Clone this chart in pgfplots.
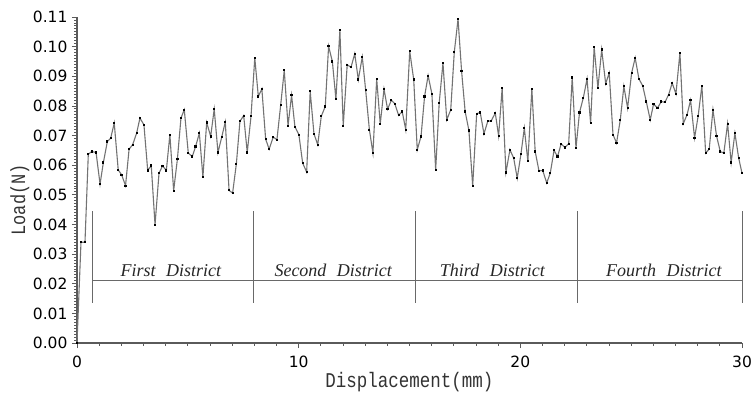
\documentclass[border=0pt]{standalone}
\usepackage{pgfplots}
\pgfplotsset{compat=1.18}
\usepackage{fontspec}
\usepackage{graphicx}
\setmainfont{DejaVu Sans}
\newfontfamily\labelfont{Liberation Mono}
\newfontfamily\distfont{Liberation Serif}
\definecolor{linegray}{RGB}{115,115,115}
\definecolor{axgray}{RGB}{90,90,90}
\definecolor{anngray}{RGB}{105,105,105}
\begin{document}
\begin{tikzpicture}
\begin{axis}[
  at={(0,0)}, anchor=south west,
  scale only axis, width=665pt, height=326pt,
  xmin=0, xmax=30, ymin=0, ymax=0.11,
  clip=false,
  axis lines=left,
  axis line style={draw=axgray, line width=1.1pt, -},
  xtick={0,10,20,30},
  minor x tick num=9,
  ytick={0,0.01,0.02,0.03,0.04,0.05,0.06,0.07,0.08,0.09,0.10,0.11},
  minor y tick num=9,
  tick align=outside,
  major tick length=5pt,
  minor tick length=2.5pt,
  every tick/.style={draw=axgray, line width=0.8pt},
  tick label style={font=\fontsize{15.5}{15.5}\selectfont, text=black},
  /pgf/number format/assume math mode=true,
  yticklabel style={/pgf/number format/fixed, /pgf/number format/fixed zerofill, /pgf/number format/precision=2, xshift=-1pt},
  scaled y ticks=false,
  xticklabel style={yshift=-4pt},
  xlabel={\labelfont\fontsize{17.5}{18}\selectfont\scalebox{1}[1.2]{Displacement(mm)}},
  ylabel={\labelfont\fontsize{17}{18}\selectfont\scalebox{1}[1.2]{Load(N)}},
  xlabel style={at={(axis description cs:0.5,-0.12)}, anchor=center, text=black!80},
  ylabel style={at={(axis description cs:-0.086,0.439)}, anchor=center, text=black!80},
]
\addplot[color=linegray, line width=1.1pt, mark=square*, mark size=0.6pt,
  mark options={draw=black, fill=black, line width=0pt}] table {
x y
0.00 0.0000
0.18 0.0340
0.36 0.0340
0.51 0.0637
0.66 0.0646
0.86 0.0643
1.04 0.0536
1.19 0.0609
1.37 0.0680
1.52 0.0691
1.68 0.0742
1.86 0.0584
2.01 0.0568
2.19 0.0531
2.35 0.0654
2.51 0.0669
2.69 0.0708
2.84 0.0759
3.02 0.0736
3.19 0.0582
3.35 0.0599
3.52 0.0399
3.70 0.0573
3.86 0.0598
4.03 0.0582
4.19 0.0703
4.36 0.0514
4.53 0.0621
4.69 0.0759
4.84 0.0787
5.02 0.0641
5.20 0.0629
5.35 0.0663
5.52 0.0708
5.68 0.0560
5.85 0.0744
6.03 0.0697
6.19 0.0789
6.36 0.0643
6.53 0.0695
6.69 0.0746
6.86 0.0515
7.02 0.0506
7.19 0.0605
7.35 0.0748
7.52 0.0767
7.68 0.0643
7.85 0.0765
8.02 0.0962
8.18 0.0832
8.34 0.0857
8.51 0.0688
8.67 0.0654
8.85 0.0695
9.02 0.0686
9.19 0.0804
9.35 0.0920
9.52 0.0733
9.68 0.0836
9.83 0.0730
10.01 0.0703
10.18 0.0607
10.36 0.0577
10.52 0.0849
10.69 0.0706
10.86 0.0669
11.02 0.0765
11.20 0.0798
11.35 0.1001
11.52 0.0950
11.68 0.0823
11.86 0.1055
12.01 0.0733
12.19 0.0939
12.36 0.0930
12.53 0.0976
12.69 0.0889
12.87 0.0965
13.02 0.0855
13.19 0.0720
13.35 0.0641
13.52 0.0891
13.68 0.0739
13.85 0.0857
14.01 0.0789
14.18 0.0819
14.34 0.0807
14.51 0.0768
14.67 0.0781
14.83 0.0720
15.01 0.0984
15.19 0.0889
15.35 0.0652
15.52 0.0697
15.68 0.0832
15.84 0.0902
16.01 0.0841
16.18 0.0584
16.34 0.0810
16.51 0.0945
16.68 0.0753
16.86 0.0787
17.02 0.0981
17.19 0.1093
17.35 0.0917
17.51 0.0781
17.68 0.0717
17.85 0.0530
18.03 0.0774
18.19 0.0778
18.36 0.0706
18.53 0.0748
18.69 0.0750
18.87 0.0776
19.02 0.0699
19.18 0.0860
19.35 0.0575
19.53 0.0652
19.70 0.0624
19.86 0.0556
20.03 0.0639
20.18 0.0725
20.34 0.0613
20.52 0.0857
20.67 0.0646
20.84 0.0581
21.01 0.0582
21.19 0.0540
21.35 0.0573
21.52 0.0650
21.68 0.0629
21.84 0.0672
22.01 0.0660
22.18 0.0672
22.34 0.0896
22.51 0.0658
22.67 0.0778
22.84 0.0827
23.01 0.0891
23.17 0.0742
23.33 0.0999
23.50 0.0860
23.67 0.0990
23.85 0.0875
24.01 0.0911
24.18 0.0703
24.34 0.0675
24.51 0.0753
24.67 0.0866
24.84 0.0793
25.02 0.0911
25.18 0.0962
25.35 0.0891
25.52 0.0868
25.68 0.0815
25.86 0.0753
26.01 0.0806
26.19 0.0793
26.36 0.0815
26.52 0.0812
26.69 0.0838
26.85 0.0877
27.02 0.0841
27.20 0.0979
27.35 0.0740
27.52 0.0770
27.68 0.0819
27.86 0.0692
28.02 0.0765
28.19 0.0868
28.36 0.0641
28.52 0.0654
28.69 0.0787
28.85 0.0699
29.02 0.0646
29.18 0.0641
29.35 0.0740
29.51 0.0609
29.68 0.0708
29.85 0.0624
30.00 0.0573
};
% district annotation
\draw[anngray, line width=0.9pt] (axis cs:0.68,0.021) -- (axis cs:30,0.021);
\draw[anngray, line width=0.9pt] (axis cs:0.68,0.0136) -- (axis cs:0.68,0.0444);
\draw[anngray, line width=0.9pt] (axis cs:7.95,0.0136) -- (axis cs:7.95,0.0444);
\draw[anngray, line width=0.9pt] (axis cs:15.29,0.0136) -- (axis cs:15.29,0.0444);
\draw[anngray, line width=0.9pt] (axis cs:22.58,0.0136) -- (axis cs:22.58,0.0444);
\draw[anngray, line width=0.9pt] (axis cs:30,0.0136) -- (axis cs:30,0.0444);
\node[anchor=base, text=black!85, font=\distfont\itshape\fontsize{18}{18}\selectfont] at (axis cs:4.23,0.0223) {First\hspace{6pt} District};
\node[anchor=base, text=black!85, font=\distfont\itshape\fontsize{18}{18}\selectfont] at (axis cs:11.56,0.0223) {Second\hspace{6pt} District};
\node[anchor=base, text=black!85, font=\distfont\itshape\fontsize{18}{18}\selectfont] at (axis cs:18.74,0.0223) {Third\hspace{6pt} District};
\node[anchor=base, text=black!85, font=\distfont\itshape\fontsize{18}{18}\selectfont] at (axis cs:26.48,0.0223) {Fourth\hspace{6pt} District};
\end{axis}
\pgfresetboundingbox
\path[use as bounding box] (-77pt,-56pt) rectangle (674pt,343pt);
\end{tikzpicture}
\end{document}
